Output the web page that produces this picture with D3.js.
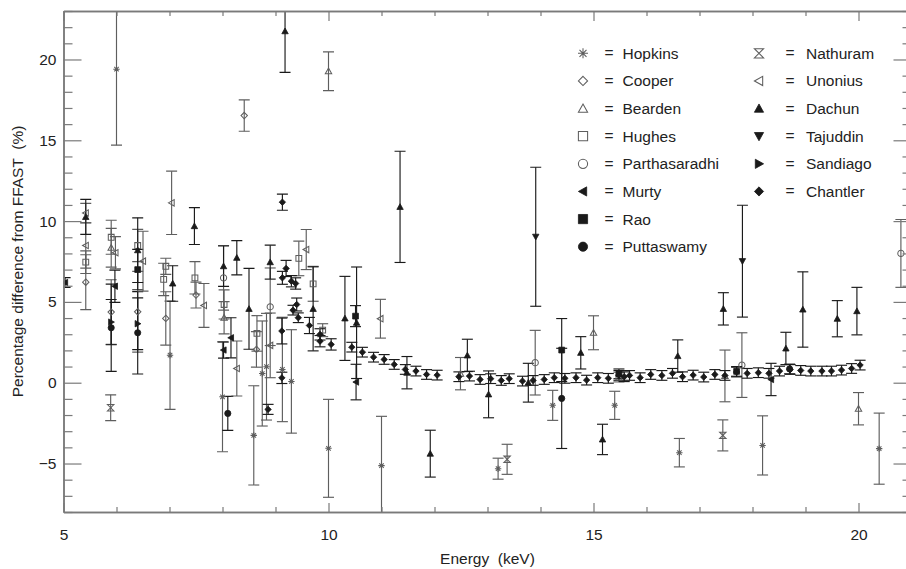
<!DOCTYPE html>
<html>
<head>
<meta charset="utf-8">
<script src="https://cdn.jsdelivr.net/npm/d3@7/dist/d3.min.js"></script>
<style>
  html, body { margin: 0; padding: 0; background: #fff; }
  svg { display: block; }
  text { font-family: "Liberation Sans", Arial, Helvetica, sans-serif; fill: #222; }
</style>
</head>
<body>
<svg id="chart" width="906" height="569"></svg>
<script>
// Percentage difference from FFAST, by data set: [energy keV, difference %, error %]
const hopkins = [
  [6.00, 19.4, 4.7], [7.01, 1.7, 3.35], [8.00, -0.87, 3.4], [8.59, -3.26, 3.07],
  [8.75, 0.57, 3.25], [8.83, 0.99, 3.3], [9.13, 0.82, 3.23], [9.30, 0.08, 3.2],
  [10.00, -4.06, 3.03], [11.00, -5.13, 3.05], [13.20, -5.32, 0.65], [14.23, -1.40, 0.93],
  [15.40, -1.40, 0.87], [16.62, -4.33, 0.88], [18.19, -3.88, 1.83], [20.39, -4.08, 2.2]
];
const cooper = [
  [5.42, 6.22, 1.7], [5.90, 4.37, 2.0], [6.40, 4.39, 2.5], [6.93, 3.98, 1.65],
  [7.50, 5.42, 0.8], [8.41, 16.53, 0.97], [8.64, 2.06, 1.1]
];
const bearden = [
  [5.90, 8.35, 1.2], [8.03, 4.02, 1.0], [10.00, 19.27, 1.2], [12.49, 0.56, 1.0],
  [15.00, 3.09, 1.05], [17.48, 0.42, 1.6], [20.00, -1.61, 1.0]
];
const hughes = [
  [5.42, 7.46, 0.7], [5.90, 9.00, 1.05], [6.40, 8.49, 1.0], [6.93, 7.20, 0.5],
  [6.89, 6.39, 1.0], [7.48, 6.49, 1.0], [8.03, 4.84, 0.9], [8.65, 3.05, 1.1],
  [9.44, 7.69, 1.07], [9.71, 6.12, 1.08], [9.89, 3.25, 0.4], [15.48, 0.35, 0.3]
];
const parthasaradhi = [
  [8.02, 6.49, 2.0], [8.90, 4.70, 2.4], [13.90, 1.24, 2.0], [17.80, 1.09, 2.0], [20.80, 8.00, 2.1]
];
const murty = [
  [5.03, 6.20, 0.3], [5.97, 5.97, 1.0], [8.02, 2.02, 0.5], [8.16, 2.78, 1.24],
  [10.52, 0.04, 1.1], [18.35, 0.20, 1.0]
];
const rao = [
  [6.40, 7.00, 1.25], [10.51, 4.12, 0.65], [14.40, 2.02, 1.95], [15.48, 0.55, 0.3], [17.70, 0.70, 0.3]
];
const puttaswamy = [
  [5.90, 3.40, 2.7], [6.40, 3.09, 2.55], [8.10, -1.90, 1.05], [14.40, -0.97, 3.1], [18.70, 0.85, 0.3]
];
const nathuram = [
  [5.89, -1.55, 0.8], [13.37, -4.74, 0.93], [17.44, -3.26, 0.96]
];
const unonius = [
  [5.42, 10.50, 0.6], [5.42, 8.49, 1.4], [5.98, 8.04, 1.0], [6.50, 7.52, 1.85],
  [7.04, 11.13, 1.96], [7.65, 4.78, 1.36], [8.27, 0.88, 1.7], [8.90, 2.31, 2.0],
  [9.58, 8.24, 1.24], [10.98, 3.96, 1.2]
];
const dachun = [
  [5.42, 10.26, 1.08], [6.40, 8.20, 2.0], [7.06, 6.14, 1.1], [7.47, 9.69, 1.14],
  [8.02, 7.21, 1.25], [8.27, 7.73, 1.06], [8.50, 4.57, 2.5], [8.90, 7.46, 1.05],
  [9.18, 21.75, 2.55], [9.71, 4.57, 2.6], [10.31, 3.98, 2.6], [10.53, 3.71, 3.45],
  [11.35, 10.88, 3.44], [11.48, 0.62, 1.0], [11.92, -4.39, 1.45], [12.62, 1.69, 1.0],
  [13.02, -0.72, 1.45], [13.77, 0.00, 1.2], [14.76, 1.85, 1.0], [15.17, -3.51, 0.94],
  [16.59, 1.65, 1.0], [17.45, 4.57, 1.0], [18.63, 2.12, 1.0], [18.95, 4.53, 2.33],
  [19.60, 3.96, 1.12], [19.97, 4.43, 1.47]
];
const tajuddin = [
  [13.91, 9.03, 4.3], [17.81, 7.52, 3.46]
];
const sandiago = [
  [5.90, 3.75, 1.4], [6.40, 3.65, 1.6]
];
const chantler = [
  [8.86, -1.65, 0.31], [9.12, 3.20, 0.8], [9.12, 0.30, 0.35], [9.13, 11.17, 0.5],
  [9.20, 7.07, 0.5], [9.13, 6.49, 0.4], [9.30, 6.28, 0.35], [9.38, 6.14, 0.35],
  [9.40, 4.84, 0.4], [9.33, 4.49, 0.3], [9.43, 4.02, 0.3], [9.64, 3.54, 0.5],
  [9.84, 2.99, 0.35], [9.84, 2.57, 0.35], [10.05, 2.37, 0.35],
  [10.44, 2.20, 0.3], [10.64, 1.89, 0.3], [10.85, 1.58, 0.3], [11.05, 1.44, 0.3],
  [11.24, 1.13, 0.3], [11.45, 0.82, 0.3], [11.65, 0.72, 0.3], [11.85, 0.51, 0.3],
  [12.05, 0.47, 0.3], [12.46, 0.37, 0.3], [12.66, 0.41, 0.3], [12.86, 0.20, 0.3],
  [13.06, 0.25, 0.3], [13.26, 0.14, 0.3], [13.41, 0.25, 0.3], [13.66, 0.10, 0.3],
  [13.86, 0.14, 0.3], [14.07, 0.20, 0.3], [14.26, 0.31, 0.3], [14.46, 0.27, 0.3],
  [14.67, 0.31, 0.3], [14.87, 0.16, 0.3], [15.08, 0.31, 0.3], [15.28, 0.27, 0.3],
  [15.48, 0.45, 0.3], [15.58, 0.37, 0.3], [15.68, 0.45, 0.3], [15.88, 0.31, 0.3],
  [16.08, 0.51, 0.3], [16.29, 0.45, 0.3], [16.49, 0.58, 0.3], [16.68, 0.37, 0.3],
  [16.88, 0.47, 0.3], [17.08, 0.35, 0.3], [17.29, 0.51, 0.3], [17.48, 0.45, 0.3],
  [17.70, 0.66, 0.3], [17.90, 0.58, 0.3], [18.11, 0.62, 0.3], [18.31, 0.58, 0.3],
  [18.51, 0.72, 0.3], [18.71, 0.82, 0.3], [18.91, 0.76, 0.3], [19.10, 0.72, 0.3],
  [19.31, 0.72, 0.3], [19.49, 0.72, 0.3], [19.68, 0.78, 0.3], [19.87, 0.88, 0.3],
  [20.03, 1.09, 0.3]
];

// Axis ticks
const xMajor = [5, 10, 15, 20];
const xMinor = [6, 7, 8, 9, 11, 12, 13, 14, 16, 17, 18, 19, 21];
const yMajor = [-5, 0, 5, 10, 15, 20];
const yMinor = [-8, -7, -6, -4, -3, -2, -1, 1, 2, 3, 4, 6, 7, 8, 9, 11, 12, 13, 14, 16, 17, 18, 19, 21, 22, 23];

// Series table: name, data, marker, hollow (grey) or filled (black)
const series = [
  { name: "Hopkins", data: hopkins, shape: "asterisk", hollow: true },
  { name: "Cooper", data: cooper, shape: "diamond", hollow: true },
  { name: "Bearden", data: bearden, shape: "triUp", hollow: true },
  { name: "Hughes", data: hughes, shape: "square", hollow: true },
  { name: "Parthasaradhi", data: parthasaradhi, shape: "circle", hollow: true },
  { name: "Murty", data: murty, shape: "triLeft", hollow: false },
  { name: "Rao", data: rao, shape: "square", hollow: false },
  { name: "Puttaswamy", data: puttaswamy, shape: "circle", hollow: false },
  { name: "Nathuram", data: nathuram, shape: "hourglass", hollow: true },
  { name: "Unonius", data: unonius, shape: "triLeft", hollow: true },
  { name: "Dachun", data: dachun, shape: "triUp", hollow: false },
  { name: "Tajuddin", data: tajuddin, shape: "triDown", hollow: false },
  { name: "Sandiago", data: sandiago, shape: "triRight", hollow: false },
  { name: "Chantler", data: chantler, shape: "diamond", hollow: false }
];

const plotL = 63.5, plotR = 911.5, plotT = 11, plotB = 512;

const x = d3.scaleLinear().domain([5, 21]).range([plotL, plotR]);
const y = d3.scaleLinear().domain([-8, 23]).range([plotB, plotT]);

const svg = d3.select("#chart");

const GREY = "#5e5e5e", BLACK = "#1a1a1a", AXIS = "#7a7a7a";

function symbolPath(shape, r) {
  switch (shape) {
    case "asterisk":
      return `M0,${-r}V${r}M${-r},0H${r}M${-r * 0.7},${-r * 0.7}L${r * 0.7},${r * 0.7}M${-r * 0.7},${r * 0.7}L${r * 0.7},${-r * 0.7}`;
    case "diamond":
      return `M0,${-r}L${r},0L0,${r}L${-r},0Z`;
    case "square":
      return `M${-r},${-r}H${r}V${r}H${-r}Z`;
    case "circle":
      return `M${r},0A${r},${r} 0 1,1 ${-r},0A${r},${r} 0 1,1 ${r},0Z`;
    case "triUp":
      return `M0,${-r}L${r},${r * 0.8}L${-r},${r * 0.8}Z`;
    case "triDown":
      return `M0,${r}L${r},${-r * 0.8}L${-r},${-r * 0.8}Z`;
    case "triLeft":
      return `M${-r},0L${r * 0.8},${-r}L${r * 0.8},${r}Z`;
    case "triRight":
      return `M${r},0L${-r * 0.8},${-r}L${-r * 0.8},${r}Z`;
    case "hourglass":
      return `M${-r},${-r}H${r}L${-r},${r}H${r}Z`;
  }
}

function styleSymbol(sel, s) {
  const col = s.hollow ? GREY : BLACK;
  const filled = !s.hollow && s.shape !== "asterisk";
  sel.attr("fill", filled ? col : "none")
     .attr("stroke", col)
     .attr("stroke-width", s.hollow ? 1.05 : 0.8)
     .attr("stroke-linejoin", "miter");
}

// Plot clip
svg.append("defs").append("clipPath").attr("id", "plotClip")
  .append("rect").attr("x", plotL).attr("y", plotT)
  .attr("width", plotR - plotL).attr("height", plotB - plotT);

const plot = svg.append("g").attr("clip-path", "url(#plotClip)");

const capHalf = 5.5;
series.forEach(s => {
  const col = s.hollow ? GREY : BLACK;
  const g = plot.append("g").attr("class", "series");
  const bars = g.selectAll("g.eb").data(s.data).join("g").attr("class", "eb")
    .attr("stroke", col).attr("stroke-width", 1.15).attr("fill", "none");
  bars.append("line")
    .attr("x1", d => x(d[0])).attr("x2", d => x(d[0]))
    .attr("y1", d => y(d[1] + d[2])).attr("y2", d => y(d[1] - d[2]));
  bars.append("line")
    .attr("x1", d => x(d[0]) - capHalf).attr("x2", d => x(d[0]) + capHalf)
    .attr("y1", d => y(d[1] + d[2])).attr("y2", d => y(d[1] + d[2]));
  bars.append("line")
    .attr("x1", d => x(d[0]) - capHalf).attr("x2", d => x(d[0]) + capHalf)
    .attr("y1", d => y(d[1] - d[2])).attr("y2", d => y(d[1] - d[2]));
});

series.forEach(s => {
  const r = s.shape === "circle" ? 3.1 : (s.shape === "square" ? 2.9 : 3.2);
  plot.append("g").selectAll("path").data(s.data).join("path")
    .attr("transform", d => `translate(${x(d[0])},${y(d[1])})`)
    .attr("d", symbolPath(s.shape, r))
    .call(styleSymbol, s);
});

// Axes
function styleAxis(g) {
  g.select(".domain").attr("stroke", AXIS).attr("stroke-width", 1.5);
  g.selectAll(".tick line").attr("stroke", AXIS).attr("stroke-width", 1.2);
  g.selectAll(".tick text").attr("font-size", 15.5).attr("fill", "#222")
    .attr("font-family", "'Liberation Sans', Arial, sans-serif");
}

svg.append("g").attr("transform", `translate(0,${plotB})`)
  .call(d3.axisBottom(x).tickValues(xMajor).tickSize(-9).tickSizeOuter(0).tickPadding(17).tickFormat(d3.format("d")))
  .call(styleAxis);
svg.append("g").attr("transform", `translate(0,${plotB})`)
  .call(d3.axisBottom(x).tickValues(xMinor).tickSize(-5).tickSizeOuter(0).tickFormat(""))
  .call(styleAxis);
svg.append("g").attr("transform", `translate(0,${plotT})`)
  .call(d3.axisTop(x).tickValues(xMajor).tickSize(-10).tickSizeOuter(0).tickFormat(""))
  .call(styleAxis);
svg.append("g").attr("transform", `translate(0,${plotT})`)
  .call(d3.axisTop(x).tickValues(xMinor).tickSize(-5).tickSizeOuter(0).tickFormat(""))
  .call(styleAxis);

svg.append("g").attr("transform", `translate(${plotL},0)`)
  .call(d3.axisLeft(y).tickValues(yMajor).tickSize(-18).tickSizeOuter(0).tickPadding(7).tickFormat(d3.format("d")))
  .call(styleAxis);
svg.append("g").attr("transform", `translate(${plotL},0)`)
  .call(d3.axisLeft(y).tickValues(yMinor).tickSize(-9).tickSizeOuter(0).tickFormat(""))
  .call(styleAxis);
svg.append("g").attr("transform", `translate(${plotR},0)`)
  .call(d3.axisRight(y).tickValues(yMajor).tickSize(-18).tickSizeOuter(0).tickFormat(""))
  .call(styleAxis);
svg.append("g").attr("transform", `translate(${plotR},0)`)
  .call(d3.axisRight(y).tickValues(yMinor).tickSize(-9).tickSizeOuter(0).tickFormat(""))
  .call(styleAxis);

// Axis titles
svg.append("text")
  .attr("x", (plotL + plotR) / 2).attr("y", 564)
  .attr("text-anchor", "middle").attr("font-size", 15.5)
  .style("white-space", "pre")
  .text("Energy  (keV)");

svg.append("text")
  .attr("transform", `translate(23,${(plotT + plotB) / 2}) rotate(-90)`)
  .attr("text-anchor", "middle").attr("font-size", 15.5)
  .style("white-space", "pre")
  .text("Percentage difference from FFAST  (%)");

// Legend
const rowH = 27.63, row0 = 53.3;
const cols = [
  { symX: 583, eqX: 609, textX: 622.5, items: series.slice(0, 8) },
  { symX: 759, eqX: 790, textX: 806, items: series.slice(8) }
];
const legend = svg.append("g").attr("class", "legend");
cols.forEach(c => {
  c.items.forEach((s, i) => {
    const yy = row0 + i * rowH;
    legend.append("path")
      .attr("transform", `translate(${c.symX},${yy})`)
      .attr("d", symbolPath(s.shape, s.shape === "asterisk" ? 5 : 4.6))
      .call(styleSymbol, s);
    legend.append("text").attr("x", c.eqX).attr("y", yy + 5)
      .attr("text-anchor", "middle").attr("font-size", 15.5).text("=");
    legend.append("text").attr("x", c.textX).attr("y", yy + 5.5)
      .attr("font-size", 15.5).text(s.name);
  });
});
</script>
</body>
</html>
